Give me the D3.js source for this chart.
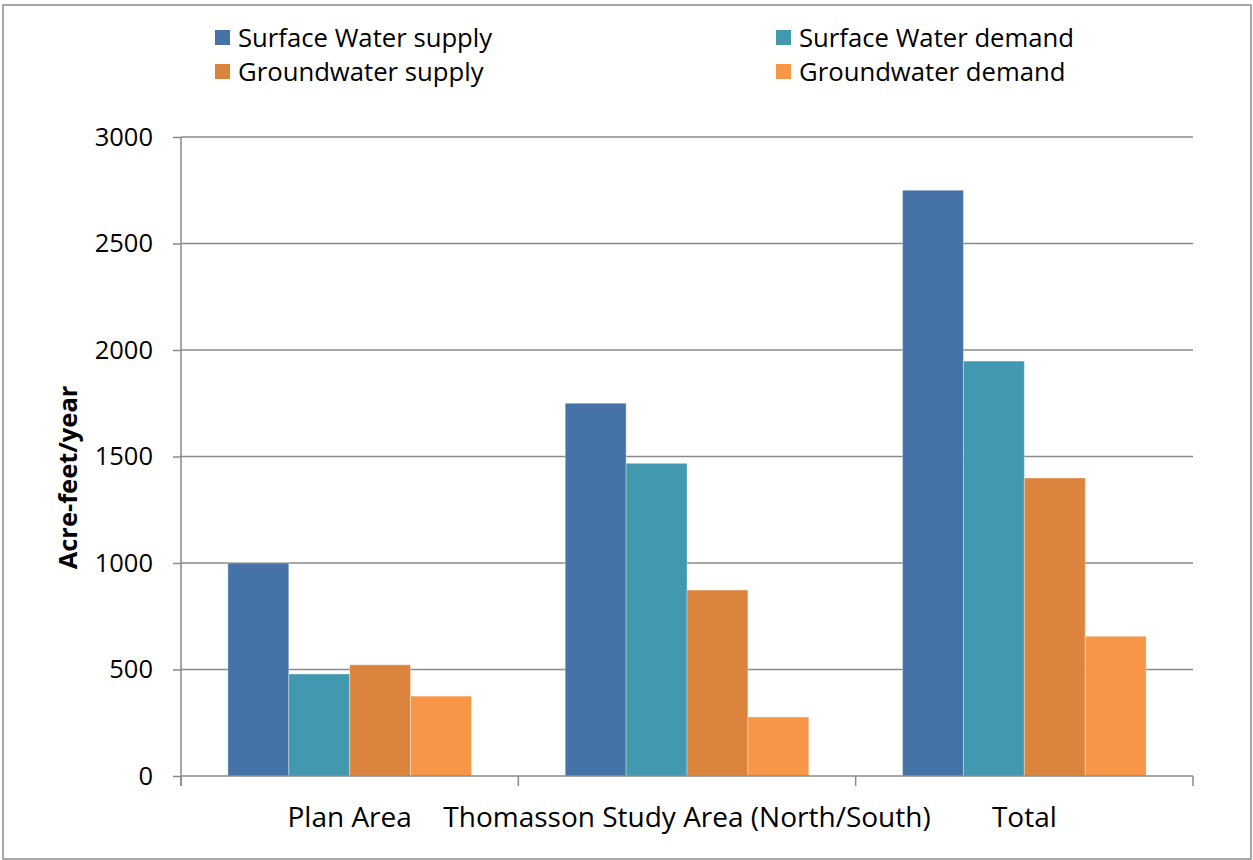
<!DOCTYPE html>
<html>
<head>
<meta charset="utf-8">
<script src="https://cdn.jsdelivr.net/npm/d3@7"></script>
<style>
  html, body { margin: 0; padding: 0; background: #fff; }
  svg { display: block; }
  text { font-family: "Open Sans", sans-serif; fill: #000; }
</style>
</head>
<body>
<svg id="chart" width="1253" height="860"></svg>
<script>
const categories = ["Plan Area", "Thomasson Study Area (North/South)", "Total"];
const seriesNames = ["Surface Water supply", "Surface Water demand", "Groundwater supply", "Groundwater demand"];
const surfaceWaterSupply = [1000, 1750, 2750];
const surfaceWaterDemand = [479, 1468, 1948];
const groundwaterSupply = [522, 873, 1399];
const groundwaterDemand = [375, 277, 656];
const seriesColors = ["#4572A7", "#4198AF", "#DB843D", "#F79646"];
const yTicks = [0, 500, 1000, 1500, 2000, 2500, 3000];
const yTitle = "Acre-feet/year";

const seriesValues = [surfaceWaterSupply, surfaceWaterDemand, groundwaterSupply, groundwaterDemand];

const svg = d3.select("#chart");
const W = 1253, H = 860;
const margin = { left: 181, right: 60, top: 137, bottom: 84 };
const plotW = W - margin.left - margin.right;
const plotH = H - margin.top - margin.bottom;

// outer border
svg.append("rect").attr("x", 3).attr("y", 5).attr("width", W - 5).attr("height", H - 6)
  .attr("fill", "#fff").attr("stroke", "#8a8a8a").attr("stroke-width", 1.5);

const g = svg.append("g").attr("transform", `translate(${margin.left},${margin.top})`);

const x0 = d3.scaleBand().domain(categories).range([0, plotW]).paddingInner(0).paddingOuter(0);
const gapFrac = 0.139;
const x1 = d3.scaleBand().domain(seriesNames)
  .range([x0.bandwidth() * gapFrac, x0.bandwidth() * (1 - gapFrac)]).padding(0);
const y = d3.scaleLinear().domain([0, 3000]).range([plotH, 0]);

// gridlines
g.append("g").selectAll("line").data(yTicks.filter(t => t > 0)).join("line")
  .attr("x1", 0).attr("x2", plotW)
  .attr("y1", d => y(d)).attr("y2", d => y(d))
  .attr("stroke", "#8a8a8a").attr("stroke-width", 1.5);

// bars
categories.forEach((cat, ci) => {
  const cg = g.append("g").attr("transform", `translate(${x0(cat)},0)`);
  cg.selectAll("rect").data(seriesNames.map((s, si) => ({ s, si, v: seriesValues[si][ci] }))).join("rect")
    .attr("x", d => x1(d.s))
    .attr("y", d => y(d.v))
    .attr("width", x1.bandwidth())
    .attr("height", d => plotH - y(d.v))
    .attr("fill", d => seriesColors[d.si])
    .attr("stroke", "rgba(255,255,255,0.35)")
    .attr("stroke-width", 1);
});

// y axis
const yAxis = d3.axisLeft(y).tickValues(yTicks).tickSize(8).tickPadding(20).tickFormat(d3.format("d"));
const yg = g.append("g").call(yAxis);
yg.select(".domain").attr("stroke", "#8a8a8a").attr("stroke-width", 1.5).attr("d", `M0,${plotH + 10}V0`);
yg.selectAll(".tick line").attr("stroke", "#8a8a8a").attr("stroke-width", 1.5);
yg.selectAll(".tick text").attr("font-family", "Open Sans").attr("font-size", 25.5).attr("fill", "#000");

// x axis
const xg = g.append("g").attr("transform", `translate(0,${plotH})`);
xg.append("line").attr("x1", 0).attr("x2", plotW).attr("y1", 0).attr("y2", 0)
  .attr("stroke", "#8a8a8a").attr("stroke-width", 1.5);
const bounds = categories.map(c => x0(c)).concat([x0(categories[categories.length - 1]) + x0.bandwidth()]);
xg.selectAll("line.tk").data(bounds).join("line").attr("class", "tk")
  .attr("x1", d => d).attr("x2", d => d).attr("y1", 0).attr("y2", 10)
  .attr("stroke", "#8a8a8a").attr("stroke-width", 1.5);
xg.selectAll("text").data(categories).join("text")
  .attr("x", d => x0(d) + x0.bandwidth() / 2)
  .attr("y", 51)
  .attr("text-anchor", "middle")
  .attr("font-size", 28)
  .text(d => d);

// y title
svg.append("text")
  .attr("transform", `translate(77,${margin.top + plotH / 2 + 21}) rotate(-90)`)
  .attr("text-anchor", "middle")
  .attr("font-size", 25.5)
  .attr("font-weight", "bold")
  .text(yTitle);

// legend
const legendPos = [[215, 38], [776, 38], [215, 72], [776, 72]];
const lg = svg.append("g");
seriesNames.forEach((s, i) => {
  const [lx, ly] = legendPos[i];
  lg.append("rect").attr("x", lx).attr("y", ly - 8).attr("width", 15).attr("height", 15)
    .attr("fill", seriesColors[i]);
  lg.append("text").attr("x", lx + 23).attr("y", ly + 9).attr("font-size", 25.7).text(s);
});
</script>
</body>
</html>
